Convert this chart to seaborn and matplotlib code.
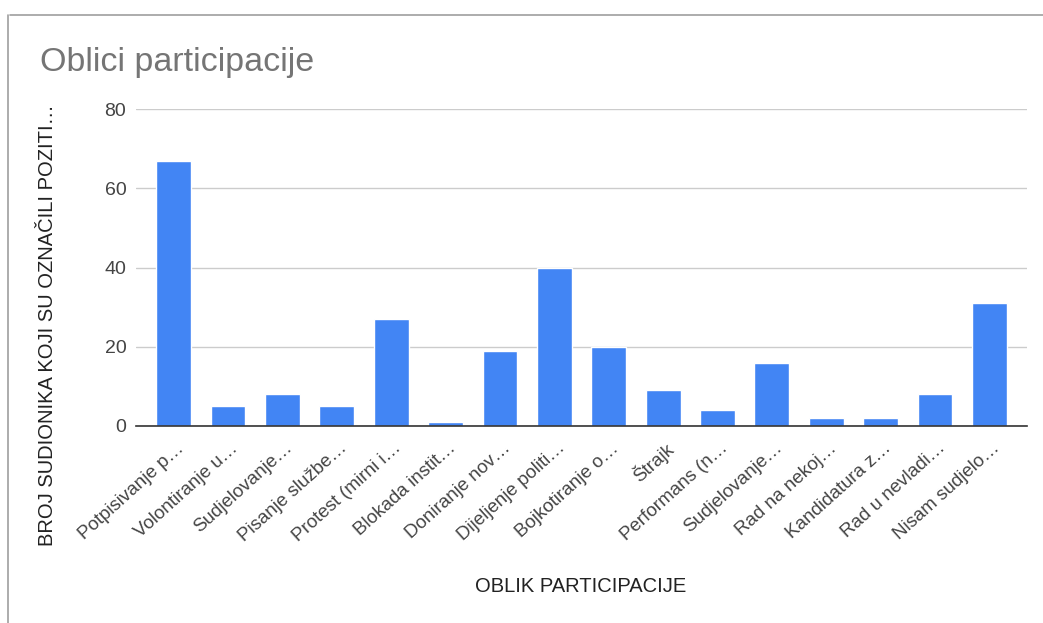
import matplotlib
matplotlib.use("Agg")
import matplotlib.pyplot as plt
import matplotlib.transforms as mtransforms
from matplotlib.lines import Line2D
import seaborn as sns
import pandas as pd

categories = [
    "Potpisivanje p…", "Volontiranje u…", "Sudjelovanje…", "Pisanje službe…",
    "Protest (mirni i…", "Blokada instit…", "Doniranje nov…", "Dijeljenje politi…",
    "Bojkotiranje o…", "Štrajk", "Performans (n…", "Sudjelovanje…",
    "Rad na nekoj…", "Kandidatura z…", "Rad u nevladi…", "Nisam sudjelo…",
]
counts = [67, 5, 8, 5, 27, 1, 19, 40, 20, 9, 4, 16, 2, 2, 8, 31]
yticks = [0, 20, 40, 60, 80]

df = pd.DataFrame({"oblik": range(len(categories)), "broj": counts})

sns.set_style("white")
plt.rcParams["font.family"] = ["Liberation Sans", "DejaVu Sans"]

fig = plt.figure(figsize=(10.43, 6.23), dpi=100)
ax = fig.add_axes([136 / 1043, 1 - 426 / 623, 891 / 1043, 317 / 623])

sns.barplot(data=df, x="oblik", y="broj", color="#4285f4", saturation=1,
            width=0.64, ax=ax, zorder=3)

ax.set_xlim(-0.69, len(categories) - 1 + 0.69)
ax.set_ylim(0, 80)
ax.set_yticks(yticks)
ax.set_yticklabels([str(t) for t in yticks], fontsize=14, color="#444444")
ax.yaxis.grid(True, color="#cccccc", linewidth=1, zorder=0)
ax.tick_params(axis="both", length=0)
ax.tick_params(axis="y", pad=7)

ax.set_xticks(range(len(categories)))
ax.set_xticklabels(categories, rotation=42, ha="right", va="center",
                   rotation_mode="anchor", fontsize=13.5, color="#444444")
offset = mtransforms.ScaledTranslation(8 / 100, -15 / 100, fig.dpi_scale_trans)
for lab in ax.get_xticklabels():
    lab.set_transform(lab.get_transform() + offset)

for s in ["top", "right", "left"]:
    ax.spines[s].set_visible(False)
ax.spines["bottom"].set_color("#333333")
ax.spines["bottom"].set_linewidth(1.2)
ax.spines["bottom"].set_zorder(4)
ax.set_xlabel("")
ax.set_ylabel("")

fig.text(40 / 1043, 1 - 62 / 623, "Oblici participacije", fontsize=24.5,
         color="#757575", ha="left", va="center")
fig.text(48 / 1043, 1 - 325 / 623, "BROJ SUDIONIKA KOJI SU OZNAČILI POZITI…",
         rotation=90, fontsize=14.5, color="#222222", ha="center", va="center")
fig.text(581 / 1043, 1 - 586 / 623, "OBLIK PARTICIPACIJE", fontsize=14.5,
         color="#222222", ha="center", va="center")

# frame of the screenshot
fig.add_artist(Line2D([10 / 1043, 1], [1 - 15 / 623, 1 - 15 / 623],
                      color="#9e9e9e", linewidth=1.2))
fig.add_artist(Line2D([8 / 1043, 8 / 1043], [0, 1 - 15 / 623],
                      color="#9e9e9e", linewidth=1.2))

fig.savefig("out.png", dpi=100)
